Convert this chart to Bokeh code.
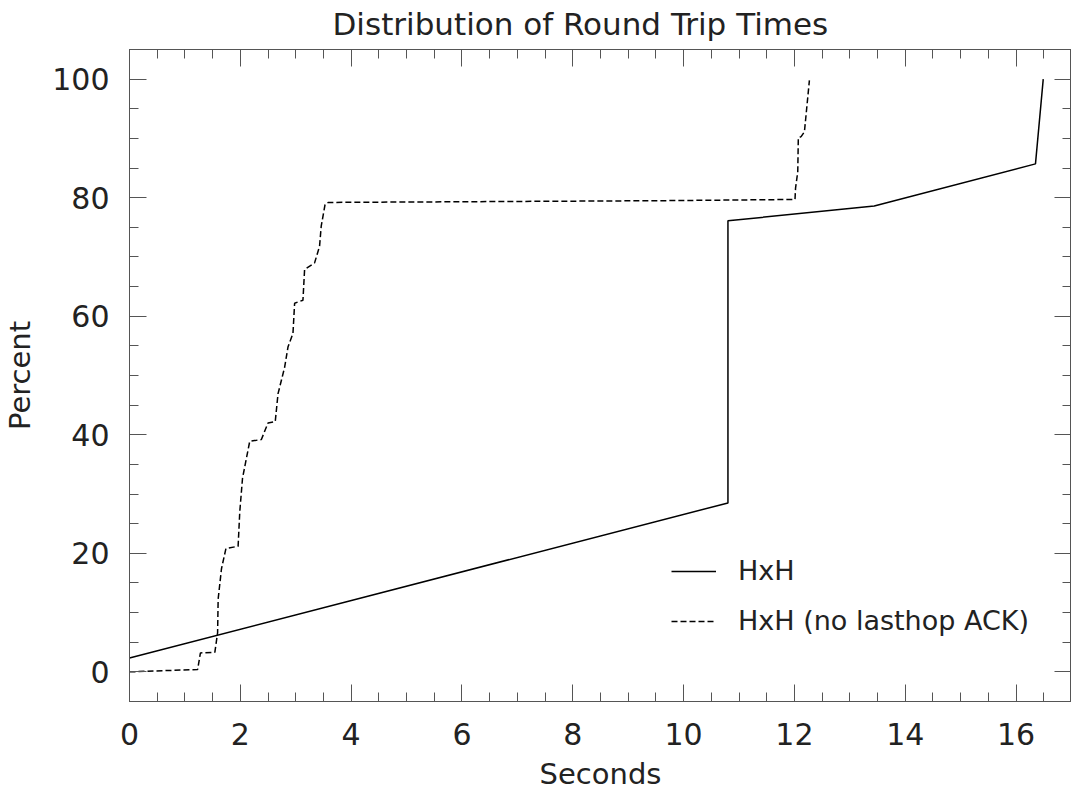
from bokeh.plotting import figure
from bokeh.models import Range1d, LinearAxis, SingleIntervalTicker, Legend, LegendItem
from bokeh.embed import file_html
from bokeh.resources import INLINE

# HxH series (seconds, percent)
hxh_x = [0.0, 10.80, 10.80, 13.44, 16.35, 16.49]
hxh_y = [2.35, 28.5, 76.1, 78.6, 85.7, 100.0]

# HxH (no lasthop ACK) series (seconds, percent)
nolast_x = [0.0, 1.23, 1.28, 1.54, 1.59, 1.60, 1.66, 1.74, 1.96, 1.99, 2.04,
            2.17, 2.38, 2.50, 2.63, 2.68, 2.80, 2.86, 2.95, 2.98, 3.13, 3.16,
            3.34, 3.43, 3.46, 3.53, 3.59, 5.70, 9.70, 12.01, 12.02, 12.06,
            12.07, 12.12, 12.18, 12.27]
nolast_y = [0.0, 0.4, 3.2, 3.3, 6.6, 12.3, 17.4, 20.8, 21.2, 27.0, 32.7,
            38.9, 39.2, 42.0, 42.2, 46.9, 51.4, 54.8, 57.1, 62.2, 62.7, 67.9,
            69.0, 71.8, 75.2, 78.9, 79.2, 79.3, 79.5, 79.7, 81.6, 84.4,
            90.1, 90.3, 91.1, 99.8]

x_ticks_interval = 2
y_ticks_interval = 20
series_labels = ["HxH", "HxH (no lasthop ACK)"]

FONT = "DejaVu Sans"
TXT = "#222222"
AX = "#555555"

p = figure(width=1071, height=797,
           x_range=Range1d(0, 17), y_range=Range1d(-5, 105),
           output_backend="svg", toolbar_location=None,
           min_border_left=128, min_border_right=0,
           min_border_top=48, min_border_bottom=96,
           x_axis_label="Seconds", y_axis_label="Percent",
           title="Distribution of Round Trip Times")
p.grid.visible = False
p.outline_line_color = AX
p.background_fill_color = "white"
p.border_fill_color = "white"

p.title.align = "left"
p.title.offset = 203
p.title.vertical_align = "top"
p.title.text_font = FONT
p.title.text_font_size = "31px"
p.title.text_font_style = "normal"
p.title.text_color = TXT
p.title.standoff = 11

xt = SingleIntervalTicker(interval=x_ticks_interval, num_minor_ticks=4)
yt = SingleIntervalTicker(interval=y_ticks_interval, num_minor_ticks=4)
p.xaxis.ticker = xt
p.yaxis.ticker = yt

def style(ax, labels=True):
    ax.axis_line_color = AX
    ax.major_tick_line_color = AX
    ax.minor_tick_line_color = AX
    ax.major_tick_in = 17
    ax.major_tick_out = 0
    ax.minor_tick_in = 9
    ax.minor_tick_out = 0
    ax.major_label_text_font = FONT
    if labels:
        ax.major_label_text_font_size = "30px"
        ax.major_label_text_color = TXT
    else:
        ax.major_label_text_font_size = "1px"
        ax.major_label_text_color = None
    ax.axis_label_text_font = FONT
    ax.axis_label_text_font_size = "29px"
    ax.axis_label_text_font_style = "normal"
    ax.axis_label_text_color = TXT

for ax in p.xaxis:
    style(ax)
    ax.major_label_standoff = 21
    ax.axis_label_standoff = 9
for ax in p.yaxis:
    style(ax)
    ax.major_label_standoff = 20
    ax.axis_label_standoff = 12

top = LinearAxis(ticker=xt)
right = LinearAxis(ticker=yt)
style(top, labels=False)
style(right, labels=False)
top.major_label_standoff = 0
right.major_label_standoff = 0
p.add_layout(top, "above")
p.add_layout(right, "right")

r1 = p.line(hxh_x, hxh_y, line_color="black", line_width=1.5)
r2 = p.line(nolast_x, nolast_y, line_color="black", line_width=1.5,
            line_dash="6 3")

legend = Legend(items=[LegendItem(label=series_labels[0], renderers=[r1]),
                       LegendItem(label=series_labels[1], renderers=[r2])],
                location=(542, 65))
legend.border_line_color = None
legend.background_fill_alpha = 0
legend.padding = 0
legend.margin = 0
legend.glyph_width = 45
legend.glyph_height = 30
legend.label_height = 30
legend.spacing = 19
legend.label_standoff = 22
legend.label_text_font = FONT
legend.label_text_font_size = "27px"
legend.label_text_color = TXT
p.add_layout(legend, "center")

open("out.html", "w").write(file_html(p, INLINE))
